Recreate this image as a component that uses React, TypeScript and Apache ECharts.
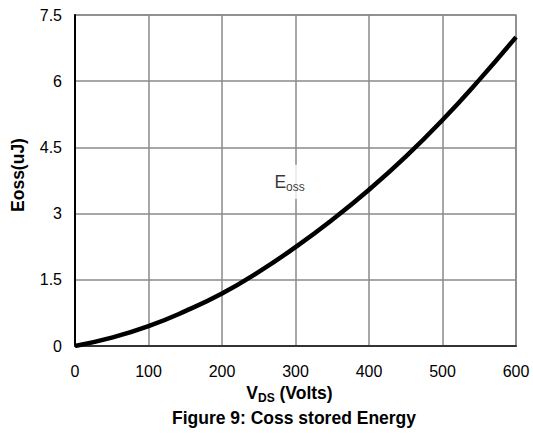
import React, { useEffect, useRef } from "react";
import * as echarts from "echarts";

// Drain-source voltage (V) and the matching stored output energy (uJ)
const vds = [0, 50, 100, 150, 200, 250, 300, 350, 400, 450, 500, 550, 600];
const eoss = [0, 0.19, 0.45, 0.79, 1.19, 1.68, 2.24, 2.86, 3.54, 4.29, 5.12, 6.03, 7.0];

// Curve label anchor, in data units
const labelAt = [292, 3.72];

export default function App() {
  const ref = useRef<HTMLDivElement>(null);

  useEffect(() => {
    if (!ref.current) return;
    const chart = echarts.init(ref.current, null, { renderer: "svg" });
    const font = "'Liberation Sans', Arial, sans-serif";
    chart.setOption({
      animation: false,
      backgroundColor: "#ffffff",
      textStyle: { fontFamily: font },
      grid: {
        left: 75,
        right: 17,
        top: 15,
        bottom: 88,
        show: true,
        borderColor: "#8a8a8a",
        borderWidth: 1.5,
      },
      title: {
        text: "Figure 9: Coss stored Energy",
        left: 289,
        textAlign: "center",
        top: 404,
        textStyle: { fontFamily: font, fontSize: 17.5, fontWeight: "bold", color: "#000" },
      },
      xAxis: {
        type: "value",
        min: 0,
        max: 600,
        interval: 100,
        axisLine: { show: true, lineStyle: { color: "#333", width: 2 } },
        axisTick: { show: false },
        splitLine: { show: true, lineStyle: { color: "#8a8a8a", width: 1.5 } },
        axisLabel: { color: "#000", fontSize: 16, margin: 17, fontFamily: font },
        name: "{v|V}{s|DS}{v| (Volts)}",
        nameLocation: "middle",
        nameGap: 35,
        nameTextStyle: {
          padding: [0, 12, 0, 0],
          rich: {
            v: { fontSize: 17.5, lineHeight: 22, fontWeight: "bold", color: "#000", fontFamily: font },
            s: { fontSize: 12, lineHeight: 12, fontWeight: "bold", color: "#000", fontFamily: font, verticalAlign: "bottom" },
          },
        },
      },
      yAxis: {
        type: "value",
        min: 0,
        max: 7.5,
        interval: 1.5,
        axisLine: { show: true, lineStyle: { color: "#000", width: 2 } },
        axisTick: { show: false },
        splitLine: { show: true, lineStyle: { color: "#8a8a8a", width: 1.5 } },
        axisLabel: { color: "#000", fontSize: 16, margin: 13, fontFamily: font },
        name: "Eoss(uJ)",
        nameLocation: "middle",
        nameGap: 48,
        nameTextStyle: {
          fontSize: 17.5,
          fontWeight: "bold",
          color: "#000",
          fontFamily: font,
          padding: [0, 0, 0, 11],
        },
      },
      series: [
        {
          type: "line",
          data: vds.map((v, i) => [v, eoss[i]]),
          smooth: true,
          showSymbol: false,
          symbol: "none",
          lineStyle: { color: "#000", width: 4.5 },
          z: 3,
        },
        {
          type: "scatter",
          data: [labelAt],
          symbolSize: 0,
          silent: true,
          z: 4,
          label: {
            show: true,
            position: "inside",
            formatter: "{e|E}{o|oss}",
            backgroundColor: "#fff",
            padding: [6, 2, 6, 2],
            rich: {
              e: { fontSize: 17.5, lineHeight: 22, color: "#000", fontFamily: font },
              o: { fontSize: 12, lineHeight: 12, color: "#000", fontFamily: font, verticalAlign: "bottom" },
            },
          },
        },
      ],
    });
    return () => chart.dispose();
  }, []);

  return (
    <div
      ref={ref}
      style={{ position: "fixed", left: 0, top: 0, width: 533, height: 434 }}
    />
  );
}
